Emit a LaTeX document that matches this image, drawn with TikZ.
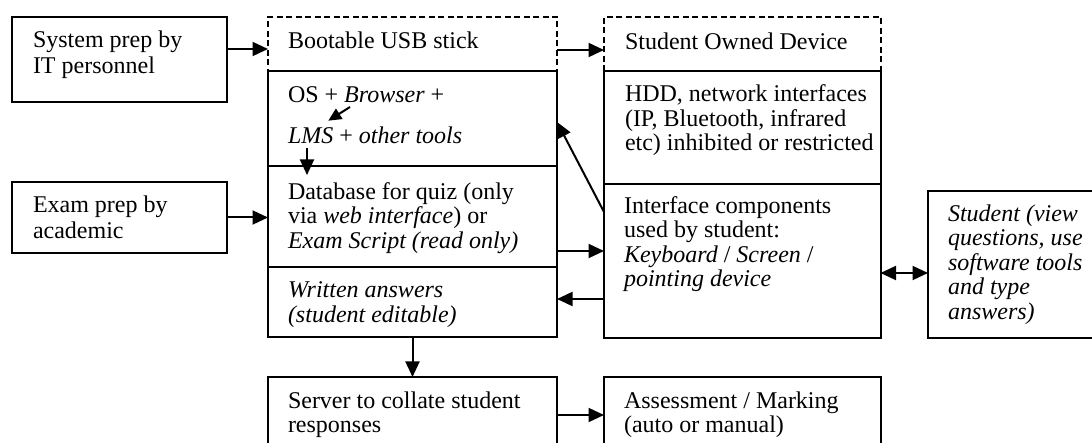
\documentclass[tikz,border=0pt]{standalone}
\usepackage{fontspec}
\setmainfont{Liberation Serif}
\usetikzlibrary{arrows.meta}
\newcommand\diagfont{\fontsize{24}{24.5}\selectfont}
\newcommand\fstrut{\rule{0pt}{18pt}}
\begin{document}
\begin{tikzpicture}[x=1pt,y=-1pt,
  box/.style={draw, line width=2pt, inner sep=0pt, outer sep=0pt, anchor=north west},
  dbox/.style={box, dash pattern=on 6pt off 3.5pt},
  txt/.style={anchor=north west, inner sep=0pt, outer sep=0pt, align=left, font=\diagfont},
  itxt/.style={txt, font=\diagfont\itshape},
  arr/.style={line width=2pt, >={Triangle[length=15.5pt,width=14pt]}, ->},
  darr/.style={arr, <->},
]
\useasboundingbox (0,0) rectangle (1092,443);
\clip (0,0) rectangle (1092,443);

% left boxes
\node[box, minimum width=215pt, minimum height=85pt] (A) at (12,17) {};
\node[txt] (At) at (33,29.5) {\fstrut System prep by\\[1.5pt]IT personnel};
\node[box, minimum width=215pt, minimum height=71pt] (B) at (12,182) {};
\node[txt] (Bt) at (33,195) {\fstrut Exam prep by\\[1.5pt]academic};

% USB column
\node[dbox, minimum width=289pt, minimum height=54pt] (usbh) at (268,17) {};
\node[txt] (usbht) at (288,31) {\fstrut Bootable USB stick};
\node[box, minimum width=289pt, minimum height=95pt] (usb1) at (268,71) {};
\node[txt] (usb1t) at (288,85) {\fstrut OS + \textit{Browser} +\\[16.5pt]\textit{LMS} + \textit{other tools}};
\node[box, minimum width=289pt, minimum height=101pt] (usb2) at (268,166) {};
\node[txt] (usb2t) at (288,181.5) {\fstrut Database for quiz (only\\via \textit{web interface}) or\\\textit{Exam Script (read only)}};
\node[box, minimum width=289pt, minimum height=70pt] (usb3) at (268,267) {};
\node[itxt] (usb3t) at (288,280) {\fstrut Written answers\\(student editable)};

% Student owned device column
\node[dbox, minimum width=276.5pt, minimum height=54pt] (sodh) at (604,17) {};
\node[txt] (sodht) at (625,31.5) {\fstrut Student Owned Device};
\node[box, minimum width=276.5pt, minimum height=113pt] (sod1) at (604,71) {};
\node[txt] (sod1t) at (625,83.7) {\fstrut HDD, network interfaces\\(IP, Bluetooth, infrared\\etc) inhibited or restricted};
\node[box, minimum width=276.5pt, minimum height=154pt] (sod2) at (604,184) {};
\node[txt] (sod2t) at (624,195.5) {\fstrut Interface components\\used by student:\\\textit{Keyboard} / \textit{Screen} /\\\textit{pointing device}};

% Student
\node[box, minimum width=200pt, minimum height=147pt] (stu) at (928,191) {};
\node[itxt] (stut) at (948,203.5) {\fstrut Student (view\\questions, use\\software tools\\and type\\answers)};

% bottom row
\node[box, minimum width=289pt, minimum height=100pt] (srv) at (268,377) {};
\node[txt] (srvt) at (288,390.3) {\fstrut Server to collate student\\responses};
\node[box, minimum width=276.5pt, minimum height=100pt] (ass) at (604,377) {};
\node[txt] (asst) at (624,390.3) {\fstrut Assessment / Marking\\(auto or manual)};

% helper coordinates for free-ended connectors
\coordinate (brw) at (350,107);
\coordinate (lmsin) at (328.3,120.7);
\coordinate (lmsbot) at (307,148);
\coordinate (dbin) at (307,175);

% connectors
\draw[arr] (A.east |- 0,49) -- (usbh.west |- 0,49);
\draw[arr] (usbh.east |- 0,50) -- (sodh.west |- 0,50);
\draw[arr] (B.east) -- (usb2.west |- B.east);
\draw[arr, >={Triangle[length=13pt,width=12pt]}] (brw) -- (lmsin);
\draw[arr] (lmsbot) -- (dbin);
\draw[arr] (sod2.west |- 0,212) -- (usb1.east |- 0,122);
\draw[arr] (usb2.east |- 0,251) -- (sod2.west |- 0,251);
\draw[arr] (sod2.west |- 0,299) -- (usb3.east |- 0,299);
\draw[darr] (sod2.east |- 0,273) -- (stu.west |- 0,273);
\draw[arr] (usb3.south) -- (srv.north);
\draw[arr] (srv.east |- 0,415) -- (ass.west |- 0,415);
\end{tikzpicture}
\end{document}
